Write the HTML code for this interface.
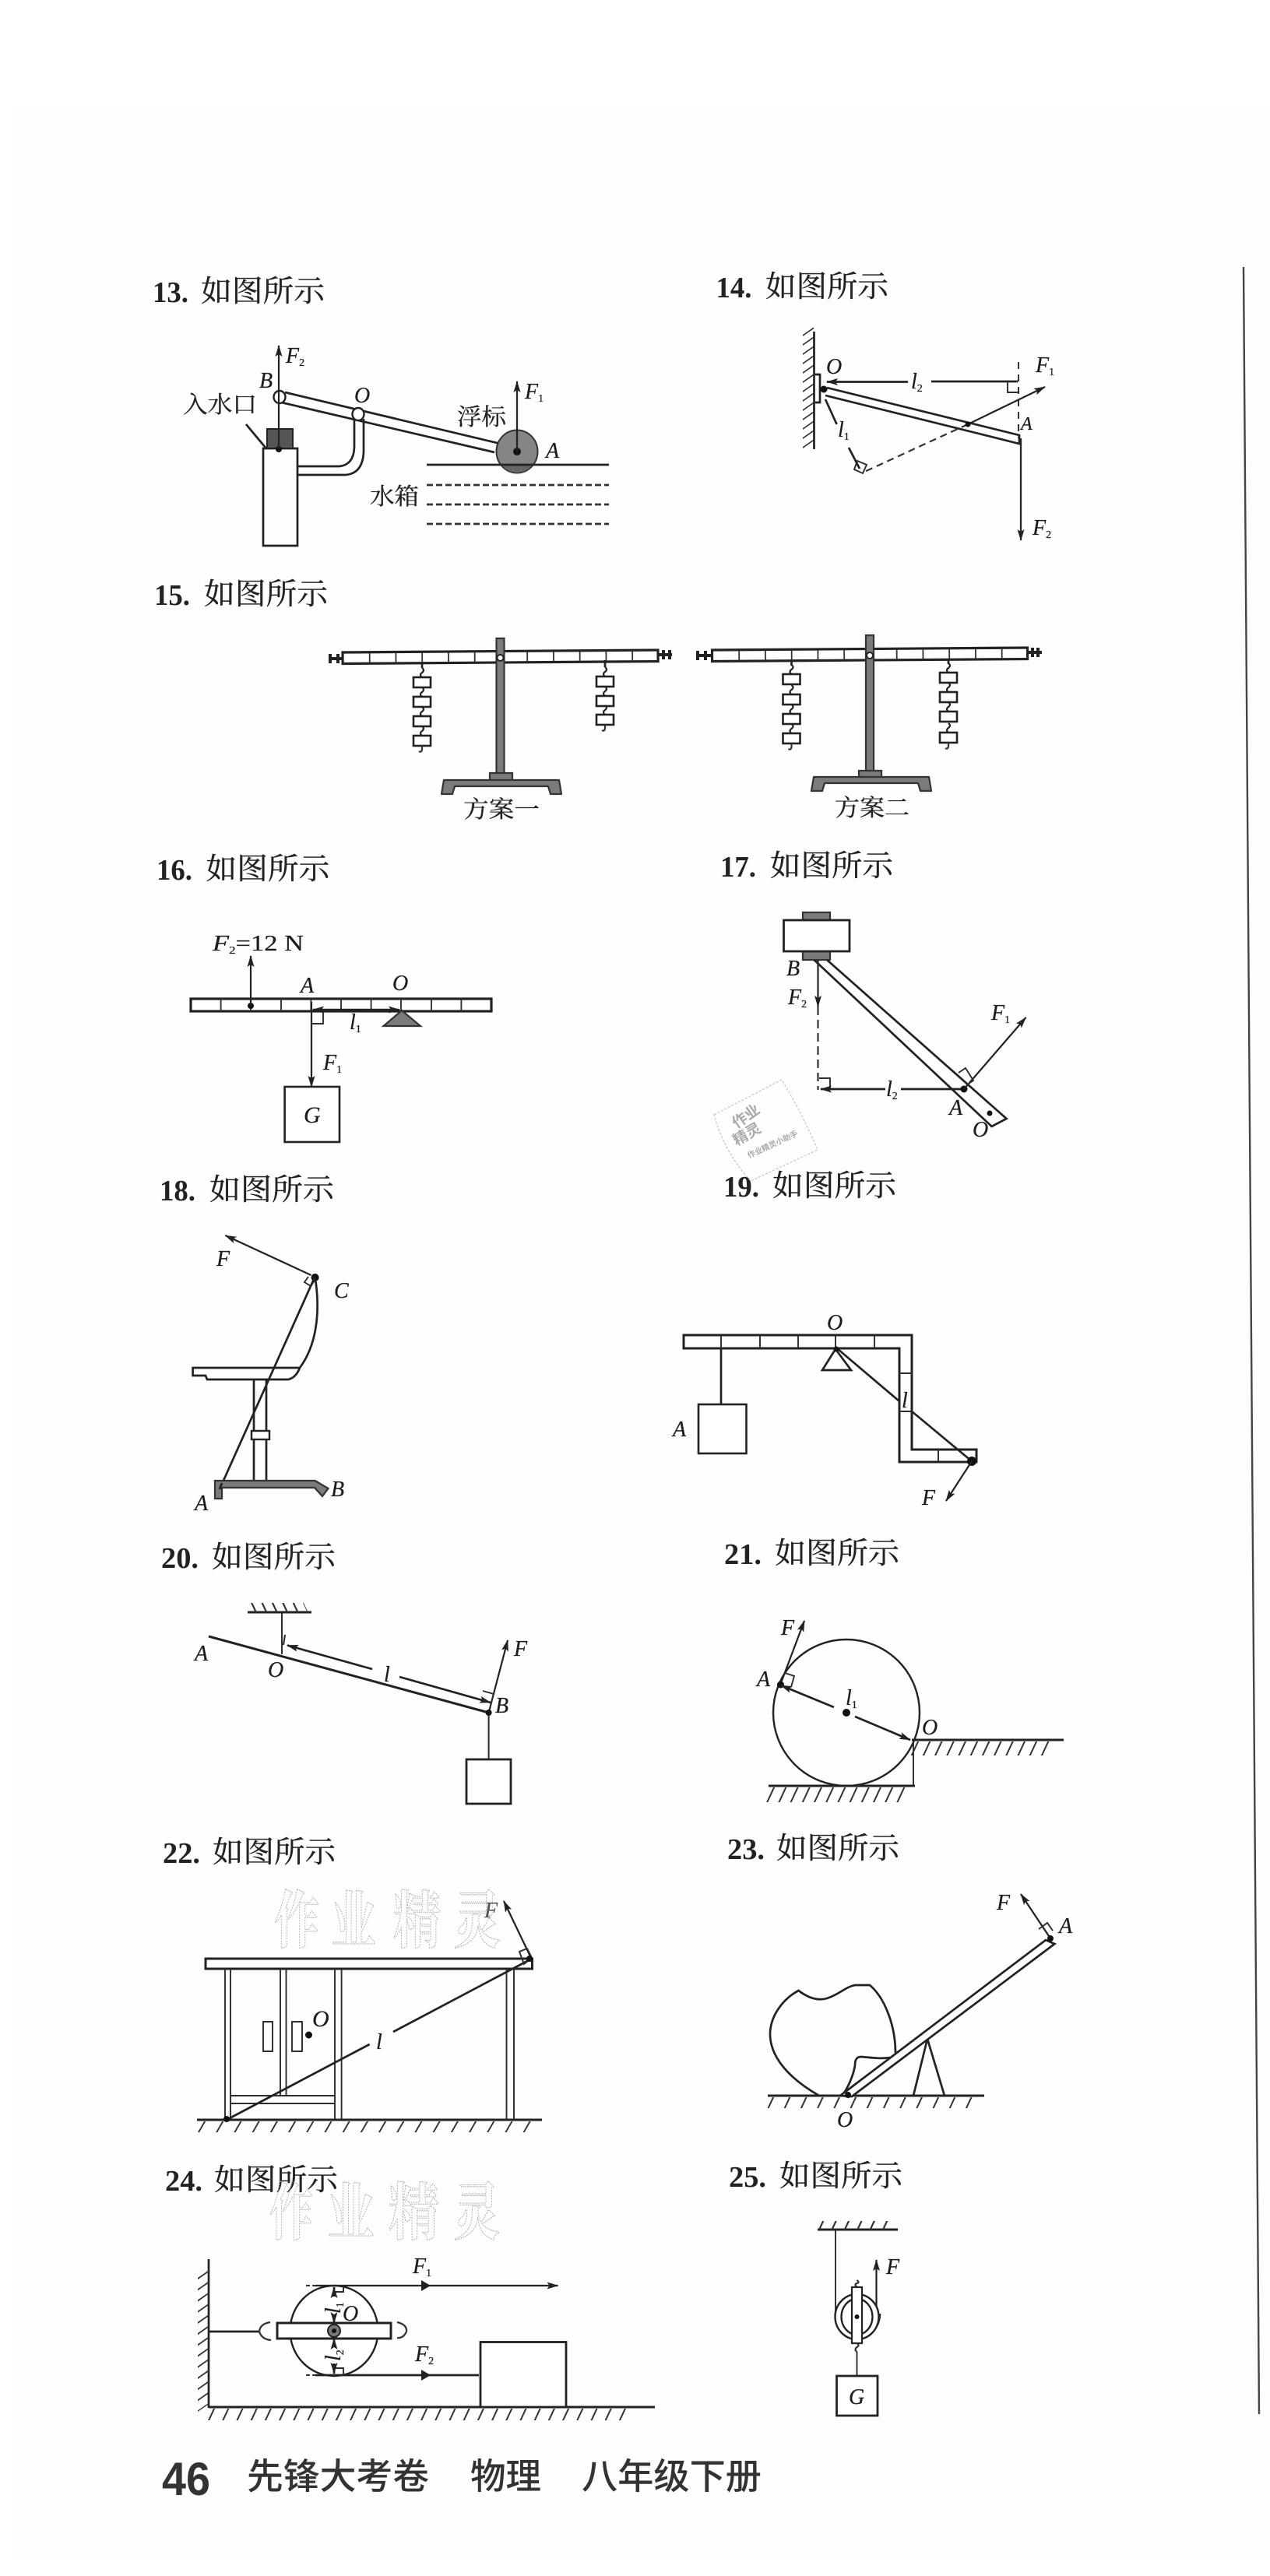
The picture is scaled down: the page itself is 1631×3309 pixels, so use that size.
<!DOCTYPE html>
<html lang="zh"><head><meta charset="utf-8"><title>如图所示</title>
<style>
html,body{margin:0;padding:0;background:#fff}
svg{display:block}
.n{font:bold 38px "Liberation Serif",serif;fill:#222}
.t{font:400 38px "Liberation Serif","Noto Serif CJK SC",serif;fill:#222;stroke:#222;stroke-width:.35}
.c{font:400 30px "Liberation Serif","Noto Serif CJK SC",serif;fill:#222;stroke:#222;stroke-width:.3}
.i{font:italic 28px "Liberation Serif",serif;fill:#1c1c1c;stroke:#1c1c1c;stroke-width:.25}
.s{font:normal 14px "Liberation Serif",serif}
.f{font:500 46px "Liberation Sans","Noto Sans CJK SC",sans-serif;fill:#333}
.wm{font:700 80px "Liberation Serif","Noto Serif CJK SC",serif;fill:none;stroke:#aaa;stroke-width:1.1;stroke-dasharray:2 1.5}
.l{fill:none;stroke:#222;stroke-width:2.7}
.th{fill:none;stroke:#2c2c2c;stroke-width:1.9}
.a{fill:none;stroke:#222;stroke-width:2.2;marker-end:url(#ar)}
.b{fill:none;stroke:#222;stroke-width:2.4;marker-end:url(#ar);marker-start:url(#as)}
.bar{fill:#fff;stroke:#222;stroke-width:3.2}
.g{fill:#7b7b7b;stroke:#333;stroke-width:2.2}
.d{fill:#111}
.h{fill:none;stroke:#333;stroke-width:2.2}
</style></head>
<body>
<svg xmlns="http://www.w3.org/2000/svg" width="1631" height="3309" viewBox="0 0 1631 3309">
<defs>
<marker id="ar" markerUnits="userSpaceOnUse" markerWidth="16" markerHeight="10" refX="14" refY="5" orient="auto"><path d="M0 0.5L15 5L0 9.5L3 5Z" fill="#222"/></marker>
<marker id="as" markerUnits="userSpaceOnUse" markerWidth="16" markerHeight="10" refX="14" refY="5" orient="auto-start-reverse"><path d="M0 0.5L15 5L0 9.5L3 5Z" fill="#222"/></marker>
<g id="w"><rect x="-11" y="0" width="22" height="13" fill="#fff" stroke="#222" stroke-width="2.6"/><path d="M0 0q-4 -3 0 -6q4 -3 0 -6" fill="none" stroke="#222" stroke-width="2.2"/></g>
<g id="beam"><rect x="0" y="0" width="405" height="14.5" class="bar"/><line x1="33.75" x2="405" y1="7.25" y2="7.25" stroke="#333" stroke-width="13" stroke-dasharray="1.8 31.95"/></g>
<g id="base"><path d="M0 18L3 0H151L154 18H140L137 8H17L14 18Z" class="g" stroke-linejoin="round"/></g>
</defs>
<rect width="1631" height="3309" fill="#fff"/>
<rect x="16" y="135" width="1615" height="3152" fill="#fdfdfd"/>
<line x1="1597" y1="343" x2="1617" y2="3101" stroke="#444" stroke-width="2.4"/>

<!-- titles -->
<text class="n" x="196" y="388" textLength="46" lengthAdjust="spacingAndGlyphs">13.</text><text class="t" x="258" y="387" textLength="159" lengthAdjust="spacingAndGlyphs">如图所示</text>
<text class="n" x="919.5" y="382" textLength="46" lengthAdjust="spacingAndGlyphs">14.</text><text class="t" x="983" y="381" textLength="158" lengthAdjust="spacingAndGlyphs">如图所示</text>
<text class="n" x="198" y="777" textLength="46" lengthAdjust="spacingAndGlyphs">15.</text><text class="t" x="262" y="776" textLength="159" lengthAdjust="spacingAndGlyphs">如图所示</text>
<text class="n" x="201" y="1130" textLength="46" lengthAdjust="spacingAndGlyphs">16.</text><text class="t" x="264.4" y="1129" textLength="159" lengthAdjust="spacingAndGlyphs">如图所示</text>
<text class="n" x="925" y="1126" textLength="46" lengthAdjust="spacingAndGlyphs">17.</text><text class="t" x="989" y="1125" textLength="158" lengthAdjust="spacingAndGlyphs">如图所示</text>
<text class="n" x="205" y="1542" textLength="46" lengthAdjust="spacingAndGlyphs">18.</text><text class="t" x="269" y="1541" textLength="160" lengthAdjust="spacingAndGlyphs">如图所示</text>
<text class="n" x="929" y="1537" textLength="46" lengthAdjust="spacingAndGlyphs">19.</text><text class="t" x="992" y="1536" textLength="159" lengthAdjust="spacingAndGlyphs">如图所示</text>
<text class="n" x="207" y="2014" textLength="48" lengthAdjust="spacingAndGlyphs">20.</text><text class="t" x="272" y="2013" textLength="159" lengthAdjust="spacingAndGlyphs">如图所示</text>
<text class="n" x="930" y="2009" textLength="48" lengthAdjust="spacingAndGlyphs">21.</text><text class="t" x="995" y="2008" textLength="160" lengthAdjust="spacingAndGlyphs">如图所示</text>
<text class="n" x="209" y="2393" textLength="48" lengthAdjust="spacingAndGlyphs">22.</text><text class="t" x="273" y="2392" textLength="158" lengthAdjust="spacingAndGlyphs">如图所示</text>
<text class="n" x="934" y="2388" textLength="48" lengthAdjust="spacingAndGlyphs">23.</text><text class="t" x="997" y="2387" textLength="158" lengthAdjust="spacingAndGlyphs">如图所示</text>
<text class="n" x="212" y="2814" textLength="48" lengthAdjust="spacingAndGlyphs">24.</text><text class="t" x="275" y="2813" textLength="159" lengthAdjust="spacingAndGlyphs">如图所示</text>
<text class="n" x="936" y="2809" textLength="48" lengthAdjust="spacingAndGlyphs">25.</text><text class="t" x="1001" y="2808" textLength="158" lengthAdjust="spacingAndGlyphs">如图所示</text>

<!-- 13 -->
<path class="l" d="M338 701V576H382V701Z"/>
<rect x="343" y="551" width="33" height="25" fill="#555" stroke="#222" stroke-width="2"/>
<circle class="d" cx="358" cy="577" r="4"/>
<path class="l" d="M382 599H436Q454 597 455 575V538"/>
<path class="l" d="M382 610H444Q466 608 467 580V538"/>
<path class="l" d="M366 504L643 570M361.5 517L635 581"/>
<ellipse cx="359" cy="510" rx="7.5" ry="8" fill="#fff" stroke="#222" stroke-width="2.4"/>
<ellipse cx="460" cy="532" rx="7.5" ry="8" fill="#fff" stroke="#222" stroke-width="2.4"/>
<line class="a" x1="358" y1="577" x2="358" y2="444"/>
<line class="l" x1="316" y1="545" x2="341" y2="575"/>
<ellipse cx="664" cy="580" rx="26.5" ry="27.5" fill="#858585" stroke="#333" stroke-width="2"/>
<path d="M644 597H684Q676 607 664 607Q652 607 644 597Z" fill="#666"/>
<line class="l" x1="548" y1="597" x2="782" y2="597"/>
<circle class="d" cx="664" cy="580" r="5"/>
<line class="a" x1="664" y1="580" x2="664" y2="490"/>
<path d="M548 623H782M548 648H782M548 673H782" fill="none" stroke="#333" stroke-width="2.7" stroke-dasharray="8 4"/>
<text class="i" x="367" y="466">F<tspan class="s" dy="4">2</tspan></text>
<text class="i" x="333" y="498">B</text>
<text class="i" x="455" y="517">O</text>
<text class="i" x="674" y="512">F<tspan class="s" dy="4">1</tspan></text>
<text class="i" x="701" y="588">A</text>
<text class="c" x="235" y="530" textLength="95" lengthAdjust="spacingAndGlyphs">入水口</text>
<text class="c" x="587" y="546" textLength="63" lengthAdjust="spacingAndGlyphs">浮标</text>
<text class="c" x="475" y="648" textLength="63" lengthAdjust="spacingAndGlyphs">水箱</text>

<!-- 14 -->
<line class="l" x1="1045.5" y1="426" x2="1045.5" y2="577"/>
<g transform="translate(1031,430) skewY(-35)"><line x1="7" x2="7" y1="0" y2="150" stroke="#333" stroke-width="14" stroke-dasharray="2 10"/></g>
<path class="l" d="M1047 481H1053V517H1047"/>
<path class="l" d="M1062 498L1309 559V570L1060 508"/>
<circle class="d" cx="1058" cy="500" r="4.5"/>
<path class="l" d="M1166 490.5H1062" style="marker-end:url(#ar)"/>
<line class="l" x1="1196" y1="490" x2="1307" y2="490"/>
<path class="th" d="M1294 490V504H1308"/>
<line x1="1308" y1="465" x2="1308" y2="563" stroke="#333" stroke-width="2" stroke-dasharray="9 7"/>
<line class="a" x1="1243" y1="545" x2="1342" y2="497"/>
<line x1="1243" y1="545" x2="1108" y2="607" stroke="#333" stroke-width="2.2" stroke-dasharray="9 6"/>
<circle class="d" cx="1243" cy="545" r="3.5"/>
<path class="th" d="M1101 592L1113 597L1108 608L1097 603Z"/>
<path class="l" d="M1060 513L1074.6 545M1090 575L1104 602"/>
<line class="a" x1="1311" y1="563" x2="1311" y2="694"/>
<text class="i" x="1061" y="480">O</text>
<text class="i" x="1170" y="499">l<tspan class="s" dy="4">2</tspan></text>
<text class="i" x="1076" y="561">l<tspan class="s" dy="4">1</tspan></text>
<text class="i" x="1311" y="552" style="font-size:24px">A</text>
<text class="i" x="1330" y="478">F<tspan class="s" dy="4">1</tspan></text>
<text class="i" x="1326" y="687">F<tspan class="s" dy="4">2</tspan></text>

<!-- 15 -->
<use href="#beam" transform="translate(440,838) rotate(-0.42)"/>
<path d="M424 840V852M424 846H440M434 840V852M845 841H863M852 835V847M860 835V847" stroke="#222" stroke-width="4" fill="none"/>
<rect x="637.5" y="820" width="10" height="175" class="g"/>
<circle cx="642.5" cy="845" r="4" fill="#fff" stroke="#222" stroke-width="2"/>
<rect x="629" y="993" width="29" height="10" class="g"/>
<use href="#base" transform="translate(567,1002)"/>
<line class="l" x1="542" y1="852" x2="542" y2="858"/>
<use href="#w" x="542" y="870"/><use href="#w" x="542" y="895"/><use href="#w" x="542" y="920"/><use href="#w" x="542" y="945"/>
<path class="h" d="M542 958V963q-1 4 -4 2"/>
<line class="l" x1="777" y1="848" x2="777" y2="857"/>
<use href="#w" x="777" y="869"/><use href="#w" x="777" y="894"/><use href="#w" x="777" y="918"/>
<path class="h" d="M777 931V936q-1 4 -4 2"/>
<text class="c" x="595" y="1050" textLength="98" lengthAdjust="spacingAndGlyphs">方案一</text>

<use href="#beam" transform="translate(914.5,835) rotate(-0.42)"/>
<path d="M896 836V848M896 842H914.5M906 836V848M1319 838H1338M1326 832V844M1333 832V844" stroke="#222" stroke-width="4" fill="none"/>
<rect x="1112" y="816" width="10" height="175" class="g"/>
<circle cx="1117" cy="842" r="4" fill="#fff" stroke="#222" stroke-width="2"/>
<rect x="1103" y="990" width="29" height="9" class="g"/>
<use href="#base" transform="translate(1042,998)"/>
<line class="l" x1="1016.5" y1="848" x2="1016.5" y2="855"/>
<use href="#w" x="1016.5" y="866"/><use href="#w" x="1016.5" y="892"/><use href="#w" x="1016.5" y="917"/><use href="#w" x="1016.5" y="942"/>
<path class="h" d="M1016.5 955V960q-1 4 -4 2"/>
<line class="l" x1="1218" y1="846" x2="1218" y2="853"/>
<use href="#w" x="1218" y="864"/><use href="#w" x="1218" y="889"/><use href="#w" x="1218" y="914"/><use href="#w" x="1218" y="941"/>
<path class="h" d="M1218 954V959q-1 4 -4 2"/>
<text class="c" x="1072" y="1048" textLength="96" lengthAdjust="spacingAndGlyphs">方案二</text>

<!-- 16 -->
<rect x="245" y="1283" width="386" height="16" class="bar"/>
<path d="M283.6 1283v16M322 1283v16M361 1283v16M399.4 1283v16M438 1283v16M476.6 1283v16M515 1283v16M554 1283v16M592.4 1283v16" stroke="#333" stroke-width="1.9"/>
<circle class="d" cx="322" cy="1292" r="4"/>
<line class="a" x1="322" y1="1292" x2="322" y2="1228"/>
<line class="a" x1="400" y1="1287" x2="400" y2="1396"/>
<path class="th" d="M400 1315H415V1299"/>
<line class="b" x1="402" y1="1297" x2="513" y2="1297"/>
<path d="M516 1298L540 1318H492.5Z" class="g"/>
<rect x="365.6" y="1396" width="70.4" height="71" fill="#fff" stroke="#222" stroke-width="2.6"/>
<text class="i" x="273" y="1221" textLength="117" lengthAdjust="spacingAndGlyphs">F<tspan class="s" dy="4">2</tspan><tspan dy="-4" style="font-style:normal">=12 N</tspan></text>
<text class="i" x="386" y="1275">A</text>
<text class="i" x="504" y="1272">O</text>
<text class="i" x="449" y="1322">l<tspan class="s" dy="4">1</tspan></text>
<text class="i" x="415" y="1374">F<tspan class="s" dy="4">1</tspan></text>
<text class="i" x="390" y="1442" style="font-size:30px">G</text>

<!-- 17 -->
<rect x="1031" y="1172" width="35" height="11" class="g"/>
<rect x="1031" y="1222" width="35" height="11" class="g"/>
<rect x="1006.5" y="1182" width="84.5" height="40" fill="#fff" stroke="#222" stroke-width="2.8"/>
<path class="l" d="M1045.5 1233L1273.6 1447L1292.6 1437L1062 1233"/>
<line class="a" x1="1050.5" y1="1233" x2="1050.5" y2="1293"/>
<line x1="1050.5" y1="1293" x2="1050.5" y2="1400" stroke="#333" stroke-width="2.2" stroke-dasharray="11 6"/>
<path class="th" d="M1052 1385H1066V1398"/>
<path class="l" d="M1137 1399H1054" style="marker-end:url(#ar)"/>
<line class="l" x1="1157" y1="1399" x2="1236" y2="1399"/>
<circle class="d" cx="1238" cy="1399" r="4.5"/>
<line class="a" x1="1238" y1="1399" x2="1317.5" y2="1307"/>
<path class="th" d="M1231 1378L1240 1372L1250 1388L1241 1394"/>
<circle class="d" cx="1271" cy="1430" r="3.5"/>
<text class="i" x="1010" y="1253">B</text>
<text class="i" x="1012" y="1290">F<tspan class="s" dy="4">2</tspan></text>
<text class="i" x="1273" y="1310">F<tspan class="s" dy="4">1</tspan></text>
<text class="i" x="1138" y="1408">l<tspan class="s" dy="4">2</tspan></text>
<text class="i" x="1219" y="1432">A</text>
<text class="i" x="1249" y="1460">O</text>
<!-- stamp -->
<g>
<path d="M917 1432L1004 1387Q1030 1430 1050 1477L964 1517Q930 1480 917 1432Z" fill="none" stroke="#bbb" stroke-width="1" stroke-dasharray="3 2"/>
<text x="946" y="1450" transform="rotate(-35 946 1450)" style="font:bold 19px 'Noto Sans CJK SC',sans-serif;fill:#aaa">作业</text>
<text x="946" y="1472" transform="rotate(-30 946 1472)" style="font:bold 19px 'Noto Sans CJK SC',sans-serif;fill:#aaa">精灵</text>
<text x="962" y="1488" transform="rotate(-25 962 1488)" style="font:bold 10px 'Noto Sans CJK SC',sans-serif;fill:#aaa">作业精灵小助手</text>
</g>

<!-- 18 -->
<line class="a" x1="399.5" y1="1638" x2="289.4" y2="1587"/>
<path class="th" d="M396 1640L391 1647L399 1652L404 1645"/>
<circle class="d" cx="404.6" cy="1641" r="5"/>
<path class="l" d="M405 1643C412 1690 405 1730 385 1757Q380 1770 370 1772H266L264 1767H247.6V1757H385"/>
<path class="l" d="M404 1641L282 1913"/>
<path class="l" d="M326 1772V1902M342 1772V1902"/>
<rect x="323" y="1838" width="23" height="11" fill="#fff" stroke="#222" stroke-width="2.4"/>
<path d="M276 1902H404.6L421.5 1912L414 1922L404 1911H285V1925H276Z" class="g"/>
<line class="l" x1="282" y1="1913" x2="285" y2="1905"/>
<text class="i" x="278" y="1626">F</text>
<text class="i" x="429" y="1667">C</text>
<text class="i" x="250" y="1940">A</text>
<text class="i" x="425" y="1922">B</text>

<!-- 19 -->
<path class="l" style="stroke-width:3" d="M878 1715H1171V1862H1254V1878H1155V1732H878Z"/>
<path class="th" d="M926 1715v17M976 1715v17M1025 1715v17M1073 1715v17M1123 1715v17M1155 1764h16M1155 1813h16M1205 1862v16"/>
<line class="l" x1="926" y1="1732" x2="926" y2="1804"/>
<rect x="897" y="1804" width="61.5" height="63" fill="#fff" stroke="#222" stroke-width="2.6"/>
<path class="l" d="M1073 1733L1093 1760H1056Z"/>
<path class="l" d="M1076 1733L1155 1800M1171 1813L1248 1877"/>
<circle class="d" cx="1074" cy="1733" r="3.5"/>
<circle class="d" cx="1248" cy="1877" r="6"/>
<line class="a" x1="1248" y1="1877" x2="1215" y2="1928"/>
<text class="i" x="1062" y="1708">O</text>
<text class="i" x="864" y="1845">A</text>
<text class="i" x="1158" y="1808">l</text>
<text class="i" x="1184" y="1933">F</text>

<!-- 20 -->
<line class="l" x1="318" y1="2071" x2="400" y2="2071" style="stroke-width:3"/>
<g transform="translate(322,2059) skewX(25)"><line x1="0" x2="68" y1="6" y2="6" stroke="#333" stroke-width="12" stroke-dasharray="2.4 11"/></g>
<line class="l" x1="362" y1="2071" x2="362" y2="2125" style="stroke-width:1.9"/>
<line class="l" x1="268" y1="2102" x2="627.6" y2="2200" style="stroke-width:3"/>
<line x1="366" y1="2100" x2="364" y2="2113" stroke="#222" stroke-width="2"/>
<path class="l" d="M478 2144L369 2113.5" style="marker-end:url(#ar)"/>
<path class="l" d="M513 2154L630 2187" style="marker-end:url(#ar)"/>
<line class="a" x1="627.6" y1="2200" x2="652" y2="2107"/>
<path class="th" d="M620 2172L634 2176L630 2190"/>
<circle class="d" cx="627.6" cy="2200" r="4"/>
<line class="l" x1="627.6" y1="2200" x2="627.6" y2="2260" style="stroke-width:1.9"/>
<rect x="599" y="2260" width="57" height="57" fill="#fff" stroke="#222" stroke-width="2.8"/>
<text class="i" x="250" y="2133">A</text>
<text class="i" x="344" y="2154">O</text>
<text class="i" x="493" y="2160">l</text>
<text class="i" x="660" y="2127">F</text>
<text class="i" x="636" y="2200">B</text>

<!-- 21 -->
<circle cx="1087" cy="2200" r="94" fill="none" stroke="#222" stroke-width="2.4"/>
<line class="a" x1="1002.5" y1="2163" x2="1033" y2="2082"/>
<circle class="d" cx="1002.5" cy="2164" r="4.5"/>
<path class="th" d="M1008 2149L1020 2153L1016 2167"/>
<path class="l" d="M1071 2193L1003 2165" style="marker-end:url(#ar)"/>
<path class="l" d="M1098 2205L1169 2235" style="marker-end:url(#ar)"/>
<circle class="d" cx="1087" cy="2200" r="5"/>
<line class="l" x1="1171" y1="2235" x2="1366" y2="2235" style="stroke-width:3"/>
<g transform="translate(1178,2237) skewX(-25)"><line x1="0" x2="180" y1="9" y2="9" stroke="#333" stroke-width="18" stroke-dasharray="2.2 13"/></g>
<line class="th" x1="1173" y1="2235" x2="1173" y2="2294"/>
<line class="l" x1="987" y1="2294" x2="1175" y2="2294" style="stroke-width:3"/>
<g transform="translate(993,2296) skewX(-25)"><line x1="0" x2="175" y1="9.5" y2="9.5" stroke="#333" stroke-width="19" stroke-dasharray="2.2 13"/></g>
<text class="i" x="1003" y="2100">F</text>
<text class="i" x="972" y="2166">A</text>
<text class="i" x="1086" y="2190">l<tspan class="s" dy="4">1</tspan></text>
<text class="i" x="1184" y="2228">O</text>

<!-- 22 watermark -->
<text class="wm" x="352" y="2495" textLength="58" lengthAdjust="spacingAndGlyphs">作</text>
<text class="wm" x="425" y="2495" textLength="58" lengthAdjust="spacingAndGlyphs">业</text>
<text class="wm" x="505" y="2495" textLength="61" lengthAdjust="spacingAndGlyphs">精</text>
<text class="wm" x="582" y="2495" textLength="61" lengthAdjust="spacingAndGlyphs">灵</text>
<!-- 22 -->
<rect x="264" y="2516" width="419.5" height="13" fill="#fff" stroke="#222" stroke-width="3"/>
<path class="th" d="M289 2529V2722M296 2529V2722M360 2529V2692M367.5 2529V2692M430 2529V2722M438.6 2529V2722M650.5 2529V2722M660 2529V2722"/>
<path class="th" d="M296 2692H430M296 2702H430"/>
<path class="th" d="M338 2597h12v38h-12zM375 2597h13v38h-13z"/>
<circle class="d" cx="396.5" cy="2614" r="4.5"/>
<line class="l" x1="253" y1="2723" x2="696" y2="2723" style="stroke-width:3"/>
<g transform="translate(262,2725) skewX(-30)"><line x1="0" x2="430" y1="7" y2="7" stroke="#333" stroke-width="14" stroke-dasharray="2.2 21"/></g>
<path class="l" d="M474.6 2626L291 2723M505 2610L681 2517"/>
<circle class="d" cx="291" cy="2722" r="4"/>
<line class="a" x1="681" y1="2513" x2="647" y2="2442"/>
<path class="th" d="M667 2507L677 2503L683 2515L673 2523Z"/>
<circle class="d" cx="680" cy="2516" r="4"/>
<text class="i" x="622" y="2463" style="fill:#555;stroke:#555">F</text>
<text class="i" x="401" y="2603" style="font-size:30px">O</text>
<text class="i" x="483" y="2632">l</text>

<!-- 23 -->
<line class="l" x1="986" y1="2692" x2="1264" y2="2692" style="stroke-width:3"/>
<g transform="translate(992,2694) skewX(-25)"><line x1="0" x2="265" y1="7" y2="7" stroke="#333" stroke-width="14" stroke-dasharray="2.2 19"/></g>
<path class="l" d="M1052 2692C1010 2668 989 2640 989 2613C989 2590 1005 2568 1025.5 2557C1040 2568 1052 2570 1062 2567C1078 2562 1086 2552 1098 2550L1117 2550C1135 2565 1150 2600 1150 2637"/>
<path class="l" d="M1083 2690C1093 2675 1097 2660 1098 2653C1098 2646 1100 2642 1106 2642C1118 2643 1130 2645 1144 2643"/>
<path class="l" d="M1173 2692L1191 2619L1213 2692"/>
<path class="l" d="M1079 2692L1343 2492L1354.4 2497L1094 2693Z" style="fill:#fff"/>
<circle class="d" cx="1089" cy="2691" r="4"/>
<line class="a" x1="1349" y1="2490" x2="1311" y2="2433"/>
<path class="th" d="M1334 2478L1345 2470L1352 2480"/>
<circle class="d" cx="1349" cy="2490" r="4"/>
<text class="i" x="1280" y="2453">F</text>
<text class="i" x="1360" y="2483">A</text>
<text class="i" x="1075" y="2732">O</text>

<!-- 24 watermark -->
<text class="wm" x="346" y="2870" textLength="56" lengthAdjust="spacingAndGlyphs">作</text>
<text class="wm" x="420" y="2870" textLength="61" lengthAdjust="spacingAndGlyphs">业</text>
<text class="wm" x="499" y="2870" textLength="65" lengthAdjust="spacingAndGlyphs">精</text>
<text class="wm" x="582" y="2870" textLength="60" lengthAdjust="spacingAndGlyphs">灵</text>
<!-- 24 -->
<line class="l" x1="268" y1="2902" x2="268" y2="3093"/>
<g transform="translate(254,2926) skewY(-35)"><line x1="7" x2="7" y1="0" y2="172" stroke="#333" stroke-width="14" stroke-dasharray="2.2 12"/></g>
<line class="l" x1="268" y1="3092" x2="841" y2="3092" style="stroke-width:3"/>
<g transform="translate(274,3094) skewX(-25)"><line x1="0" x2="545" y1="7.5" y2="7.5" stroke="#333" stroke-width="15" stroke-dasharray="2.2 16"/></g>
<line class="l" x1="268" y1="2995" x2="333" y2="2995"/>
<ellipse cx="429" cy="2994" rx="56.5" ry="58" fill="#fff" stroke="#222" stroke-width="2.4"/>
<path class="h" d="M347 2983Q334 2985 333 2995Q336 3005 348 3006"/>
<path class="h" d="M510 2983Q523 2986 522 2995Q518 3004 510 3003"/>
<rect x="356" y="2984" width="146" height="20" fill="#fff" stroke="#222" stroke-width="3"/>
<circle cx="429" cy="2994" r="8" fill="#777" stroke="#222" stroke-width="2"/><circle cx="429" cy="2994" r="3" fill="#111"/>
<line class="a" x1="405" y1="2936" x2="716.5" y2="2936"/>
<path d="M541 2929L553 2936L541 2943Z" fill="#222"/>
<line x1="393" y1="2936" x2="405" y2="2936" stroke="#333" stroke-width="2" stroke-dasharray="5 3"/>
<line class="l" x1="405" y1="3051" x2="615" y2="3051"/>
<path d="M541 3044L553 3051L541 3058Z" fill="#222"/>
<line x1="393" y1="3051" x2="405" y2="3051" stroke="#333" stroke-width="2" stroke-dasharray="5 3"/>
<rect x="617" y="3008.5" width="110" height="83.5" fill="#fff" stroke="#222" stroke-width="2.8"/>
<path class="l" d="M429 2950V2938" style="marker-end:url(#ar)"/>
<path class="l" d="M429 2976V2984" style="marker-end:url(#ar)"/>
<path class="l" d="M429 3036V3049" style="marker-end:url(#ar)"/>
<path class="l" d="M429 3010V3004" style="marker-end:url(#ar)"/>
<path class="th" d="M431 2944H441V2936"/>
<path class="th" d="M431 3042H441V3051"/>
<text class="i" transform="translate(437,2972) rotate(-90)">l<tspan class="s" dy="4">1</tspan></text>
<text class="i" transform="translate(437,3033) rotate(-90)">l<tspan class="s" dy="4">2</tspan></text>
<text class="i" x="440" y="2981">O</text>
<text class="i" x="530" y="2920">F<tspan class="s" dy="4">1</tspan></text>
<text class="i" x="533" y="3033">F<tspan class="s" dy="4">2</tspan></text>

<!-- 25 -->
<line class="l" x1="1050" y1="2864" x2="1153" y2="2864" style="stroke-width:3"/>
<g transform="translate(1056,2853) skewX(-25)"><line x1="0" x2="95" y1="5.5" y2="5.5" stroke="#333" stroke-width="11" stroke-dasharray="2.4 14"/></g>
<line class="th" x1="1073" y1="2864" x2="1073" y2="2972"/>
<line class="a" x1="1125.5" y1="2972" x2="1125.5" y2="2903"/>
<path class="l" d="M1073 2970A28 32 0 0 0 1130 2972"/>
<ellipse cx="1100.5" cy="2976" rx="28" ry="29" fill="#fff" stroke="#222" stroke-width="2.4"/>
<ellipse cx="1100.5" cy="2976" rx="20" ry="23" fill="#fff" stroke="#222" stroke-width="2.4"/>
<path class="h" d="M1100.5 2938q-4 -4 0 -5q4 -1 0 -4"/>
<rect x="1094" y="2938" width="13" height="72" fill="#fff" stroke="#222" stroke-width="2.2"/>
<circle class="d" cx="1100.5" cy="2976" r="3"/>
<path class="h" d="M1100.5 3010q4 3 0 5q-4 3 0 6"/>
<line class="th" x1="1100.5" y1="3021" x2="1100.5" y2="3052"/>
<rect x="1074.5" y="3052" width="52.5" height="51" fill="#fff" stroke="#222" stroke-width="2.8"/>
<text class="i" x="1138" y="2921">F</text>
<text class="i" x="1090" y="3088">G</text>

<!-- footer -->
<text x="208" y="3205" textLength="62" lengthAdjust="spacingAndGlyphs" style="font:bold 60px 'Liberation Sans',sans-serif;fill:#333">46</text>
<text class="f" x="317" y="3197" textLength="234" lengthAdjust="spacingAndGlyphs">先锋大考卷</text>
<text class="f" x="604" y="3197" textLength="91" lengthAdjust="spacingAndGlyphs">物理</text>
<text class="f" x="747" y="3197" textLength="231" lengthAdjust="spacingAndGlyphs">八年级下册</text>
</svg>
</body></html>
